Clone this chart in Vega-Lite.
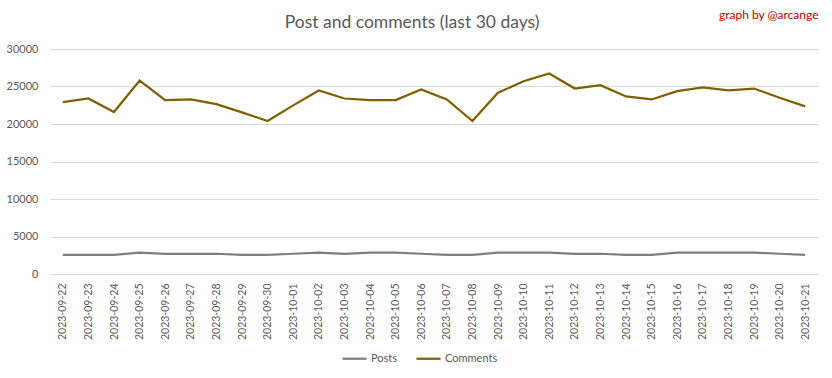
{
  "$schema": "https://vega.github.io/schema/vega-lite/v6.json",
  "width": 768,
  "height": 225,
  "autosize": {"type": "none"},
  "padding": {"left": 50, "top": 49, "right": 14, "bottom": 104},
  "background": "white",
  "title": {
    "text": "Post and comments (last 30 days)",
    "anchor": "middle",
    "frame": "bounds",
    "fontSize": 17.5,
    "font": "Lato",
    "fontWeight": "normal",
    "color": "#595959",
    "offset": -23
  },
  "config": {
    "view": {"stroke": null},
    "font": "Lato"
  },
  "data": {
    "values": [
      {"date": "2023-09-22", "series": "Posts", "value": 2550},
      {"date": "2023-09-23", "series": "Posts", "value": 2550},
      {"date": "2023-09-24", "series": "Posts", "value": 2550},
      {"date": "2023-09-25", "series": "Posts", "value": 2850},
      {"date": "2023-09-26", "series": "Posts", "value": 2700},
      {"date": "2023-09-27", "series": "Posts", "value": 2700},
      {"date": "2023-09-28", "series": "Posts", "value": 2700},
      {"date": "2023-09-29", "series": "Posts", "value": 2550},
      {"date": "2023-09-30", "series": "Posts", "value": 2550},
      {"date": "2023-10-01", "series": "Posts", "value": 2700},
      {"date": "2023-10-02", "series": "Posts", "value": 2850},
      {"date": "2023-10-03", "series": "Posts", "value": 2700},
      {"date": "2023-10-04", "series": "Posts", "value": 2850},
      {"date": "2023-10-05", "series": "Posts", "value": 2850},
      {"date": "2023-10-06", "series": "Posts", "value": 2700},
      {"date": "2023-10-07", "series": "Posts", "value": 2550},
      {"date": "2023-10-08", "series": "Posts", "value": 2550},
      {"date": "2023-10-09", "series": "Posts", "value": 2850},
      {"date": "2023-10-10", "series": "Posts", "value": 2850},
      {"date": "2023-10-11", "series": "Posts", "value": 2850},
      {"date": "2023-10-12", "series": "Posts", "value": 2700},
      {"date": "2023-10-13", "series": "Posts", "value": 2700},
      {"date": "2023-10-14", "series": "Posts", "value": 2550},
      {"date": "2023-10-15", "series": "Posts", "value": 2550},
      {"date": "2023-10-16", "series": "Posts", "value": 2850},
      {"date": "2023-10-17", "series": "Posts", "value": 2850},
      {"date": "2023-10-18", "series": "Posts", "value": 2850},
      {"date": "2023-10-19", "series": "Posts", "value": 2850},
      {"date": "2023-10-20", "series": "Posts", "value": 2700},
      {"date": "2023-10-21", "series": "Posts", "value": 2550},
      {"date": "2023-09-22", "series": "Comments", "value": 22920},
      {"date": "2023-09-23", "series": "Comments", "value": 23400},
      {"date": "2023-09-24", "series": "Comments", "value": 21590},
      {"date": "2023-09-25", "series": "Comments", "value": 25800},
      {"date": "2023-09-26", "series": "Comments", "value": 23190},
      {"date": "2023-09-27", "series": "Comments", "value": 23270},
      {"date": "2023-09-28", "series": "Comments", "value": 22650},
      {"date": "2023-09-29", "series": "Comments", "value": 21550},
      {"date": "2023-09-30", "series": "Comments", "value": 20400},
      {"date": "2023-10-01", "series": "Comments", "value": 22480},
      {"date": "2023-10-02", "series": "Comments", "value": 24470},
      {"date": "2023-10-03", "series": "Comments", "value": 23400},
      {"date": "2023-10-04", "series": "Comments", "value": 23190},
      {"date": "2023-10-05", "series": "Comments", "value": 23190},
      {"date": "2023-10-06", "series": "Comments", "value": 24600},
      {"date": "2023-10-07", "series": "Comments", "value": 23270},
      {"date": "2023-10-08", "series": "Comments", "value": 20400},
      {"date": "2023-10-09", "series": "Comments", "value": 24160},
      {"date": "2023-10-10", "series": "Comments", "value": 25700},
      {"date": "2023-10-11", "series": "Comments", "value": 26730},
      {"date": "2023-10-12", "series": "Comments", "value": 24730},
      {"date": "2023-10-13", "series": "Comments", "value": 25180},
      {"date": "2023-10-14", "series": "Comments", "value": 23670},
      {"date": "2023-10-15", "series": "Comments", "value": 23270},
      {"date": "2023-10-16", "series": "Comments", "value": 24380},
      {"date": "2023-10-17", "series": "Comments", "value": 24870},
      {"date": "2023-10-18", "series": "Comments", "value": 24470},
      {"date": "2023-10-19", "series": "Comments", "value": 24730},
      {"date": "2023-10-20", "series": "Comments", "value": 23500},
      {"date": "2023-10-21", "series": "Comments", "value": 22350}
    ]
  },
  "encoding": {
    "y": {
      "field": "value",
      "type": "quantitative",
      "scale": {"domain": [0, 30000], "nice": false},
      "axis": {
        "title": null,
        "values": [0, 5000, 10000, 15000, 20000, 25000, 30000],
        "labelOverlap": false,
        "format": "d",
        "labelFontSize": 11,
        "labelColor": "#595959",
        "labelPadding": 12,
        "ticks": false,
        "domain": false,
        "gridColor": "#d9d9d9",
        "gridWidth": 1
      }
    }
  },
  "layer": [
    {
      "mark": {"type": "line", "strokeWidth": 2.25},
      "encoding": {
        "x": {
          "field": "date",
          "type": "ordinal",
          "scale": {"type": "point", "padding": 0.5},
          "axis": {
            "title": null,
            "labelAngle": -90,
            "labelFontSize": 10.5,
            "labelColor": "#595959",
            "labelPadding": 9,
            "ticks": false,
            "grid": false,
            "domain": false
          }
        },
        "color": {
          "field": "series",
          "type": "nominal",
          "sort": ["Posts", "Comments"],
          "scale": {"domain": ["Posts", "Comments"], "range": ["#7f7f7f", "#7f6000"]},
          "legend": {
            "title": null,
            "orient": "none",
            "direction": "horizontal",
            "legendX": 291,
            "legendY": 296,
            "symbolType": "stroke",
            "symbolSize": 576,
            "symbolStrokeWidth": 2.25,
            "labelFontSize": 11,
            "labelColor": "#595959",
            "labelOffset": 3,
            "columnPadding": 14,
            "padding": 0
          }
        }
      }
    },
    {
      "mark": {"type": "line", "opacity": 0},
      "encoding": {
        "x": {
          "field": "date",
          "type": "ordinal",
          "scale": {"type": "point", "padding": 0.5},
          "axis": {
            "orient": "top",
            "title": "graph by @arcange",
            "titleAnchor": "end",
            "titleAlign": "right",
            "titleColor": "#c00000",
            "titleFontSize": 12,
            "titleFontWeight": "normal",
            "titlePadding": 28,
            "labels": false,
            "ticks": false,
            "domain": false,
            "grid": false
          }
        }
      }
    }
  ],
  "resolve": {"axis": {"x": "independent"}}
}
